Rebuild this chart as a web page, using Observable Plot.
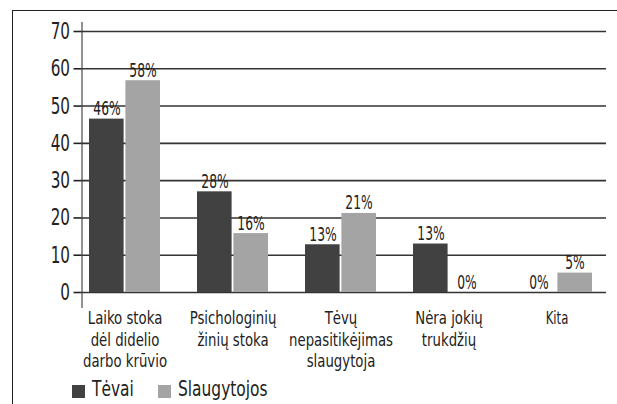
<!DOCTYPE html>
<html>
<head>
<meta charset="utf-8">
<script src="https://cdn.jsdelivr.net/npm/d3@7"></script>
<script src="https://cdn.jsdelivr.net/npm/@observablehq/plot@0.6"></script>
<style>
  html, body { margin: 0; padding: 0; background: #fff; overflow: hidden; }
  body { width: 617px; height: 404px; position: relative; font-family: "DejaVu Sans Condensed", "DejaVu Sans", sans-serif; color: #222; }
  #frame { position: absolute; left: 12px; top: 10px; width: 640px; height: 420px; border-left: 1.5px solid #222; border-top: 1.5px solid #222; box-sizing: border-box; pointer-events: none; }
  #chart { position: absolute; left: 0; top: 0; }
  #chart svg g[aria-label^="y-axis"] line, #chart svg g[aria-label^="y-axis"] path { stroke-width: 1.6px; }
  #legend { position: absolute; left: 72px; top: 378px; font-size: 22px; line-height: 21px; white-space: nowrap; display: flex; align-items: baseline; }
  #legend .sw { display: inline-block; width: 13px; height: 13px; margin-right: 7px; align-self: flex-end; margin-bottom: 1px; }
  #legend .txt { display: inline-block; transform: scaleX(0.78); transform-origin: left center; }
  #legend .item { display: inline-flex; align-items: baseline; margin-right: 24px; }
</style>
</head>
<body>
<div id="chart"></div>
<div id="legend"></div>
<div id="frame"></div>
<script>
const categories = [
  "Laiko stoka\ndėl didelio\ndarbo krūvio",
  "Psichologinių\nžinių stoka",
  "Tėvų\nnepasitikėjimas\nslaugytoja",
  "Nėra jokių\ntrukdžių",
  "Kita"
];
const seriesNames = ["Tėvai", "Slaugytojos"];
const seriesColors = ["#414141", "#a4a4a4"];
const tevaiValues = [46.5, 27, 12.8, 13, 0];
const slaugValues = [56.8, 15.8, 21.2, 0, 5.2];
const tevaiLabels = ["46%", "28%", "13%", "13%", "0%"];
const slaugLabels = ["58%", "16%", "21%", "0%", "5%"];
const yTicks = [0, 10, 20, 30, 40, 50, 60, 70];

const tevaiRows = categories.map((c, i) => ({category: c, value: tevaiValues[i], label: tevaiLabels[i]}));
const slaugRows = categories.map((c, i) => ({category: c, value: slaugValues[i], label: slaugLabels[i]}));

const font = '"DejaVu Sans Condensed", "DejaVu Sans", sans-serif';

const chart = Plot.plot({
  width: 617,
  height: 372,
  marginLeft: 81.5,
  marginRight: 11,
  marginTop: 22,
  marginBottom: 65,
  style: {fontFamily: font, fontSize: "23.5px", color: "#222", background: "transparent"},
  x: {domain: categories, paddingInner: 0.339, paddingOuter: 0.084, align: 0.37, axis: null},
  y: {domain: [0, 70], insetTop: 9, insetBottom: 15, ticks: yTicks, tickSize: 8, tickPadding: 4, line: true, label: null, tickFormat: d => String(d)},
  marks: [
    Plot.ruleY(yTicks, {stroke: "#333", strokeWidth: 1.6}),
    Plot.barY(tevaiRows, {x: "category", y: "value", fill: seriesColors[0], insetRight: 36.4}),
    Plot.barY(slaugRows, {x: "category", y: "value", fill: seriesColors[1], insetLeft: 36.4}),
    Plot.text(tevaiRows, {x: "category", y: "value", text: "label", dx: -18, dy: -4, lineAnchor: "bottom", fontSize: 19, fill: "#222"}),
    Plot.text(slaugRows, {x: "category", y: "value", text: "label", dx: 18, dy: -4, lineAnchor: "bottom", fontSize: 19, fill: "#222"}),
    Plot.text(categories, {x: d => d, text: d => d, frameAnchor: "bottom", lineAnchor: "top", dy: 2, fontSize: 18, lineHeight: 1.17, fill: "#222"})
  ]
});
document.getElementById("chart").appendChild(chart);

// condense glyphs horizontally (narrow typeface look), keeping text as text
function condense(textEl, k) {
  const spans = textEl.querySelectorAll("tspan");
  const els = spans.length ? Array.from(spans) : [textEl];
  els.forEach(e => {
    const w = e.getComputedTextLength();
    if (w > 0) {
      e.setAttribute("textLength", (w * k).toFixed(2));
      e.setAttribute("lengthAdjust", "spacingAndGlyphs");
    }
  });
}
chart.querySelectorAll("text").forEach(t => condense(t, t.querySelector("tspan") ? 0.82 : 0.72));

const legend = document.getElementById("legend");
seriesNames.forEach((name, i) => {
  const item = document.createElement("span");
  item.className = "item";
  const sw = document.createElement("span");
  sw.className = "sw";
  sw.style.background = seriesColors[i];
  const txt = document.createElement("span");
  txt.className = "txt";
  txt.textContent = name;
  item.appendChild(sw);
  item.appendChild(txt);
  legend.appendChild(item);
  const w = txt.getBoundingClientRect().width / 0.78;
  txt.style.marginRight = (-(1 - 0.78) * w) + "px";
});
</script>
</body>
</html>
